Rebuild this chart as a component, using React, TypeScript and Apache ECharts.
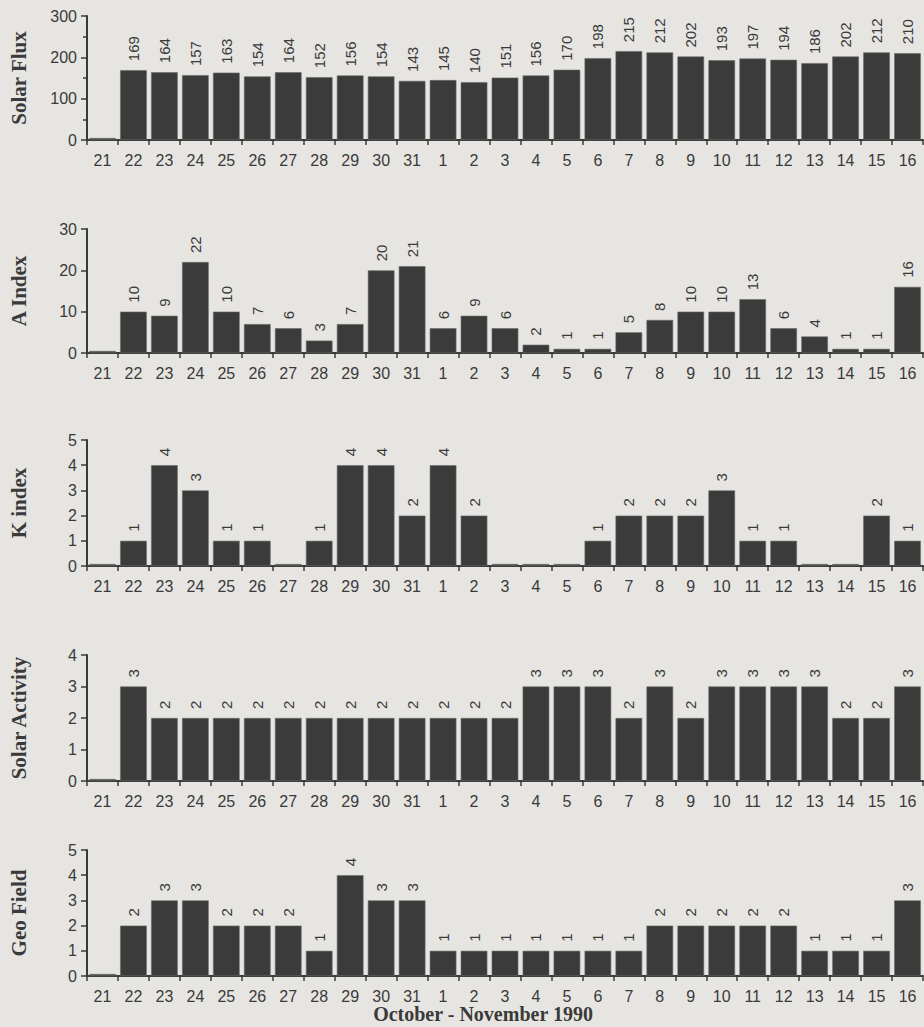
import React, { useEffect, useRef } from "react";
import * as echarts from "echarts";

const days = ["21","22","23","24","25","26","27","28","29","30","31","1","2","3","4","5","6","7","8","9","10","11","12","13","14","15","16"];
const solarFlux = [0,169,164,157,163,154,164,152,156,154,143,145,140,151,156,170,198,215,212,202,193,197,194,186,202,212,210];
const aIndex = [0,10,9,22,10,7,6,3,7,20,21,6,9,6,2,1,1,5,8,10,10,13,6,4,1,1,16];
const kIndex = [0,1,4,3,1,1,0,1,4,4,2,4,2,0,0,0,1,2,2,2,3,1,1,0,0,2,1];
const solarActivity = [0,3,2,2,2,2,2,2,2,2,2,2,2,2,3,3,3,2,3,2,3,3,3,3,2,2,3];
const geoField = [0,2,3,3,2,2,2,1,4,3,3,1,1,1,1,1,1,1,2,2,2,2,2,1,1,1,3];

const panelNames = ["Solar Flux", "A Index", "K index", "Solar Activity", "Geo Field"];
const panelMax = [300, 30, 5, 4, 5];
const panelInterval = [100, 10, 1, 1, 1];
const panelData = [solarFlux, aIndex, kIndex, solarActivity, geoField];
const xTitle = "October - November 1990";

const INK = "#3a3a3a";
const BAR = "#3b3b3b";
const BG = "#e7e5e1";

export default function App() {
  const ref = useRef<HTMLDivElement>(null);
  useEffect(() => {
    if (!ref.current) return;
    const chart = echarts.init(ref.current, undefined, { renderer: "svg" });
    const grids = [
      { top: 16, height: 124 },
      { top: 229, height: 124 },
      { top: 440, height: 126 },
      { top: 655, height: 126 },
      { top: 850, height: 126 },
    ].map((g) => ({ ...g, left: 82, right: 1 }));

    const xAxis = grids.map((_, i) => ({
      type: "category",
      gridIndex: i,
      data: days,
      axisLine: { lineStyle: { color: INK, width: 2 } },
      axisTick: { show: true, length: 5, lineStyle: { color: INK, width: 1.5 } },
      axisLabel: {
        color: INK,
        fontSize: 16,
        fontFamily: "Liberation Sans, Arial, sans-serif",
        margin: 12,
        interval: 0,
      },
    }));

    const yAxis = grids.map((_, i) => ({
      type: "value",
      gridIndex: i,
      min: 0,
      max: panelMax[i],
      interval: panelInterval[i],
      name: panelNames[i],
      nameLocation: "middle",
      nameGap: 58,
      nameTextStyle: {
        color: INK,
        fontSize: 21,
        fontWeight: "bold",
        fontFamily: "Liberation Serif, Times New Roman, serif",
      },
      axisLine: { show: true, lineStyle: { color: INK, width: 2 } },
      axisTick: { show: true, length: 6, lineStyle: { color: INK, width: 1.5 } },
      minorTick: { show: i === 0, splitNumber: 2, length: 4, lineStyle: { color: INK, width: 1.5 } },
      splitLine: { show: false },
      axisLabel: {
        color: INK,
        fontSize: 16,
        fontFamily: "Liberation Sans, Arial, sans-serif",
        margin: 10,
      },
    }));

    const series = panelData.map((d, i) => ({
      type: "bar",
      xAxisIndex: i,
      yAxisIndex: i,
      data: d,
      barCategoryGap: "14%",
      barMinHeight: 2,
      itemStyle: { color: BAR, borderColor: "#6a6a6a", borderWidth: 0.6 },
      label: {
        show: true,
        position: "top",
        rotate: 90,
        align: "left",
        verticalAlign: "middle",
        distance: 9,
        color: INK,
        fontSize: 15,
        fontFamily: "Liberation Sans, Arial, sans-serif",
        formatter: (p: any) => (p.value === 0 ? "" : String(p.value)),
      },
    }));

    chart.setOption({
      animation: false,
      backgroundColor: BG,
      grid: grids,
      xAxis,
      yAxis,
      series,
      graphic: [
        {
          type: "text",
          x: 483,
          y: 1014,
          style: {
            text: xTitle,
            fill: INK,
            font: "bold 20px 'Liberation Serif', 'Times New Roman', serif",
            textAlign: "center",
            textVerticalAlign: "middle",
          },
        },
      ],
    });
    return () => chart.dispose();
  }, []);
  return (
    <div
      ref={ref}
      style={{ position: "absolute", left: 0, top: 0, width: 924, height: 1027 }}
    />
  );
}
